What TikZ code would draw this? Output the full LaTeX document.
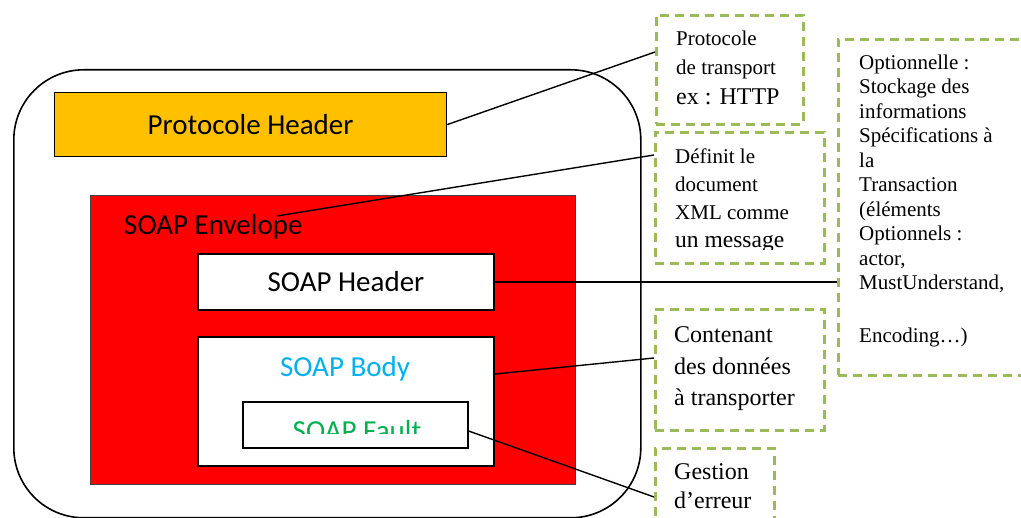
\documentclass[tikz,border=0pt]{standalone}
\usepackage{fontspec}
\setmainfont{Liberation Serif}
\newfontfamily\calfont{Carlito}
\usetikzlibrary{calc}
\definecolor{hdrorange}{HTML}{FFC000}
\definecolor{envred}{HTML}{FF0000}
\definecolor{bodyblue}{HTML}{00B0F0}
\definecolor{faultgreen}{HTML}{00B050}
\definecolor{dashgreen}{HTML}{9BBB59}
\begin{document}
\begin{tikzpicture}[x=1pt,y=-1pt,
  box/.style={draw=black, line width=1.6pt, inner sep=0pt, anchor=north west},
  callout/.style={draw=dashgreen, line width=2.6pt, dash pattern=on 9pt off 6pt, inner sep=0pt, anchor=north west},
  ctext/.style={font=\fontsize{21}{29.5}\selectfont, align=left, inner sep=0pt, anchor=west},
  cbig/.style={font=\fontsize{24}{31.5}\selectfont, align=left, inner sep=0pt, anchor=west},
  lbl/.style={font=\calfont\fontsize{29}{35}\selectfont},
  conn/.style={draw=black, line width=1.4pt}]
\clip (0,0) rectangle (1021,518);
\useasboundingbox (0,0) rectangle (1021,518);

% outer message container
\node[box, rounded corners=70pt, minimum width=627pt, minimum height=448pt] (outer) at (13,69) {};

% protocol header
\node[box, fill=hdrorange, line width=1.2pt, minimum width=392pt, minimum height=64pt, lbl] (ph) at (54,92) {Protocole Header};

% SOAP envelope
\node[box, fill=envred, draw=black!75, line width=1pt, minimum width=485pt, minimum height=289pt] (env) at (90,195) {};
\node[lbl, inner sep=0pt, anchor=base west] (envlbl) at (124,234.5) {SOAP Envelope};
\coordinate (envpt) at (277,216);

% SOAP header
\node[box, fill=white, line width=2pt, minimum width=296pt, minimum height=56pt, lbl] (sh) at (197,253) {SOAP Header};

% SOAP body
\node[box, fill=white, line width=2pt, minimum width=296pt, minimum height=129pt] (sb) at (197,336) {};
\node[lbl, text=bodyblue, inner sep=0pt, anchor=base] (sblbl) at (345,377) {SOAP Body};

% SOAP fault
\node[box, fill=white, line width=1.6pt, minimum width=225pt, minimum height=46pt] (sf) at (242,401) {};
\begin{scope}
\clip (243,402) rectangle (466,434);
\node[lbl, text=faultgreen, inner sep=0pt, anchor=base] (sflbl) at (357,441) {SOAP Fault};
\end{scope}

% callouts
\node[callout, minimum width=147pt, minimum height=109pt] (c1) at (655,14) {};
\node[ctext] (t1) at (676,67.5) {Protocole\\de transport\\{\fontsize{24}{29.5}\selectfont ex : HTTP}};

\node[callout, minimum width=169pt, minimum height=131pt] (c2) at (654,131) {};
\begin{scope}
\clip (656,133) rectangle (821,250);
\node[ctext, font=\fontsize{21}{28}\selectfont] (t2) at (675,200.5) {Définit le\\document\\XML comme\\{\fontsize{23.5}{28}\selectfont un message}};
\end{scope}

\node[callout, minimum width=200pt, minimum height=336pt] (c3) at (837,38) {};
\node[ctext, font=\fontsize{21}{24.5}\selectfont] (t3) at (859,200.5) {Optionnelle :\\Stockage des\\informations\\Spécifications à\\la\\Transaction\\(éléments\\Optionnels :\\actor,\\MustUnderstand,\\[28pt]Encoding…)};

\node[callout, minimum width=169pt, minimum height=121pt] (c4) at (654,308) {};
\node[cbig] (t4) at (674,369) {Contenant\\des données\\à transporter};

\node[callout, minimum width=119pt, minimum height=93pt] (c5) at (654,447) {};
\node[cbig, font=\fontsize{24}{29.5}\selectfont] (t5) at (674,486) {Gestion\\d’erreur};

% connectors
\draw[conn] (ph.east) -- ($(c1.north west)+(0,38)$);
\draw[conn] (envpt) -- ($(c2.north west)+(0,24)$);
\draw[conn] (sh.east) -- ($(c3.north west)+(0,244)$);
\draw[conn] ($(sb.north east)+(0,38)$) -- ($(c4.north west)+(0,50)$);
\draw[conn] ($(sf.north east)+(0,30)$) -- ($(c5.north west)+(0,50)$);
\end{tikzpicture}
\end{document}
